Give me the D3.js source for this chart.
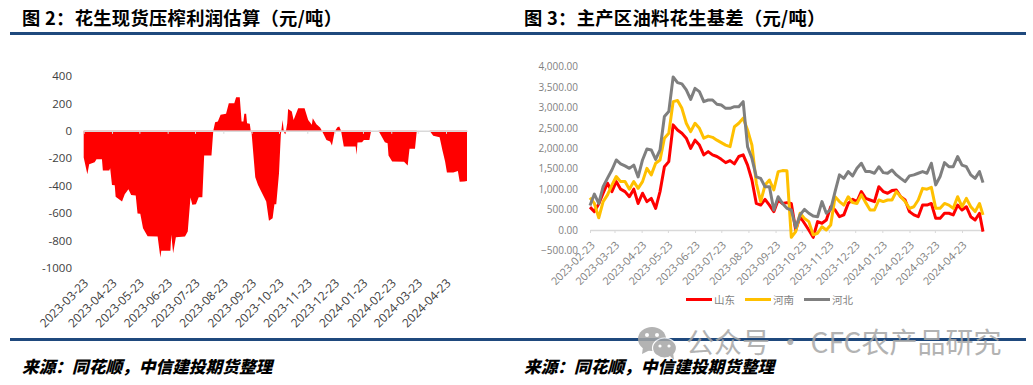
<!DOCTYPE html>
<html>
<head>
<meta charset="utf-8">
<script src="https://cdn.jsdelivr.net/npm/d3@7"></script>
<style>
	html, body { margin: 0; padding: 0; background: #fff; }
	svg { display: block; }
	text { font-family: "Open Sans", sans-serif; }
	.cjk { font-family: "Noto Sans CJK SC", sans-serif; }
</style>
</head>
<body>
<svg id="chart" width="1033" height="385"></svg>
<script>
// figure 2: crushing profit
const profitDates = [
	"2023-03-23", "2023-03-27", "2023-03-29", "2023-04-04", "2023-04-06", "2023-04-12", "2023-04-13", "2023-04-20", "2023-04-21", "2023-04-23",
	"2023-04-26", "2023-04-27", "2023-05-04", "2023-05-07", "2023-05-11", "2023-05-14", "2023-05-19", "2023-05-21", "2023-05-24", "2023-05-27",
	"2023-06-01", "2023-06-12", "2023-06-15", "2023-06-16", "2023-06-26", "2023-06-27", "2023-06-29", "2023-07-02", "2023-07-12", "2023-07-15",
	"2023-07-18", "2023-07-20", "2023-07-24", "2023-07-27", "2023-07-31", "2023-08-02", "2023-08-10", "2023-08-12", "2023-08-14", "2023-08-17",
	"2023-08-20", "2023-08-26", "2023-08-29", "2023-09-04", "2023-09-06", "2023-09-10", "2023-09-12", "2023-09-14", "2023-09-15", "2023-09-17",
	"2023-09-18", "2023-09-21", "2023-09-22", "2023-09-23", "2023-09-27", "2023-09-30", "2023-10-09", "2023-10-12", "2023-10-16", "2023-10-18",
	"2023-10-20", "2023-10-23", "2023-10-25", "2023-10-27", "2023-10-28", "2023-10-29", "2023-10-30", "2023-11-01", "2023-11-02", "2023-11-06",
	"2023-11-08", "2023-11-13", "2023-11-20", "2023-11-24", "2023-11-28", "2023-11-29", "2023-12-03", "2023-12-07", "2023-12-09", "2023-12-14",
	"2023-12-18", "2023-12-20", "2023-12-23", "2023-12-26", "2023-12-28", "2023-12-30", "2024-01-02", "2024-01-15", "2024-01-16", "2024-01-17",
	"2024-01-22", "2024-01-24", "2024-01-30", "2024-02-01", "2024-02-09", "2024-02-16", "2024-02-19", "2024-02-20", "2024-02-24", "2024-03-08",
	"2024-03-12", "2024-03-14", "2024-03-20", "2024-03-22", "2024-04-05", "2024-04-09", "2024-04-16", "2024-04-19", "2024-04-22", "2024-04-24",
	"2024-05-01", "2024-05-06", "2024-05-08", "2024-05-13", "2024-05-16"
];
const profitValues = [
	-194, -316, -243, -228, -207, -207, -289, -289, -272, -394,
	-396, -481, -515, -462, -425, -467, -471, -603, -605, -710,
	-768, -770, -923, -875, -875, -758, -892, -775, -770, -734,
	-486, -539, -535, -484, -484, -180, -180, 0, 63, 68,
	117, 124, 202, 202, 245, 245, 68, 68, 124, 124,
	56, 51, 0, -17, -338, -394, -515, -656, -637, -535,
	-535, -309, -29, 80, 12, -17, -24, 56, 160, 141,
	80, 165, 165, 80, 44, 92, 49, 24, 0, -66,
	-78, -107, -5, 27, 32, 0, -114, -114, -175, -85,
	-83, -66, -66, 0, 0, -83, -90, -180, -224, -226,
	-253, -131, -131, 0, 0, -36, -46, -139, -224, -304,
	-304, -292, -372, -370, -365
];
const profitTicks = [
	"2023-03-23", "2023-04-23", "2023-05-23", "2023-06-23", "2023-07-23", "2023-08-23", "2023-09-23",
	"2023-10-23", "2023-11-23", "2023-12-23", "2024-01-23", "2024-02-23", "2024-03-23", "2024-04-23"
];
const profitYTicks = [400, 200, 0, -200, -400, -600, -800, -1000];

// figure 3: basis by region
const basisDates = [
	"2023-02-23", "2023-02-28", "2023-03-05", "2023-03-10", "2023-03-15", "2023-03-20", "2023-03-25", "2023-03-30", "2023-04-04", "2023-04-09",
	"2023-04-14", "2023-04-19", "2023-04-24", "2023-04-29", "2023-05-04", "2023-05-09", "2023-05-14", "2023-05-19", "2023-05-24", "2023-05-29",
	"2023-06-03", "2023-06-08", "2023-06-13", "2023-06-18", "2023-06-23", "2023-06-28", "2023-07-03", "2023-07-08", "2023-07-13", "2023-07-18",
	"2023-07-23", "2023-07-28", "2023-08-02", "2023-08-07", "2023-08-12", "2023-08-17", "2023-08-22", "2023-08-27", "2023-09-01", "2023-09-06",
	"2023-09-11", "2023-09-16", "2023-09-21", "2023-09-26", "2023-10-01", "2023-10-06", "2023-10-11", "2023-10-16", "2023-10-21", "2023-10-26",
	"2023-10-31", "2023-11-05", "2023-11-10", "2023-11-15", "2023-11-20", "2023-11-25", "2023-11-30", "2023-12-05", "2023-12-10", "2023-12-15",
	"2023-12-20", "2023-12-25", "2023-12-30", "2024-01-04", "2024-01-09", "2024-01-14", "2024-01-19", "2024-01-24", "2024-01-29", "2024-02-03",
	"2024-02-08", "2024-02-13", "2024-02-18", "2024-02-23", "2024-02-28", "2024-03-04", "2024-03-09", "2024-03-14", "2024-03-19", "2024-03-24",
	"2024-03-29", "2024-04-03", "2024-04-08", "2024-04-13", "2024-04-18", "2024-04-23", "2024-04-28", "2024-05-03", "2024-05-08", "2024-05-13",
	"2024-05-17"
];
const shandong = [
	560, 450, 640, 900, 1145, 940, 1185, 1000, 940, 815,
	1000, 650, 900, 695, 775, 530, 940, 1550, 1675, 2575,
	2450, 2370, 2250, 2000, 2200, 2080, 1840, 1920, 1840, 1800,
	1730, 1650, 1700, 1620, 1800, 1840, 1590, 1225, 650, 610,
	750, 610, 450, 735, 650, 670, 650, 0, 325, 165,
	0, -180, 205, 165, 245, 570, 490, 325, 370, 650,
	750, 695, 940, 775, 735, 695, 1060, 940, 900, 965,
	980, 815, 735, 450, 370, 325, 610, 610, 650, 285,
	285, 410, 410, 370, 610, 490, 570, 325, 245, 410,
	-40
];
const henan = [
	790, 650, 300, 695, 860, 1100, 1310, 1185, 1185, 1000,
	1185, 1020, 1185, 1510, 1350, 1635, 1715, 2250, 2370, 3145,
	3170, 2980, 2615, 2410, 2615, 2490, 2250, 2300, 2270, 2200,
	2140, 2080, 2040, 2530, 2615, 2740, 2450, 2080, 1145, 695,
	1100, 1225, 980, 1430, 1455, 1450, -180, -40, 410, 285,
	205, -120, -80, 80, 0, 120, 815, 695, 610, 815,
	670, 650, 860, 670, 490, 490, 735, 695, 735, 735,
	940, 815, 695, 530, 570, 735, 1020, 1000, 1045, 530,
	530, 650, 610, 530, 815, 570, 775, 570, 450, 650,
	370
];
const hebei = [
	600, 880, 650, 1060, 1270, 1470, 1715, 1620, 1570, 1510,
	1590, 1300, 1715, 1985, 1960, 1730, 1960, 2780, 2900, 3750,
	3610, 3580, 3430, 3200, 3470, 3390, 3145, 3185, 3185, 3080,
	3060, 2980, 2980, 3020, 3020, 3145, 2040, 1755, 1300, 1265,
	1060, 1060, 490, 815, 650, 530, 490, 60, 370, 505,
	410, 340, 325, 695, 410, 505, 940, 1350, 1265, 1430,
	1325, 1510, 1635, 1430, 1430, 1390, 1550, 1405, 1390, 1470,
	1350, 1265, 1185, 1325, 1350, 1390, 1430, 1390, 1635, 1105,
	1310, 1650, 1550, 1550, 1800, 1590, 1550, 1350, 1265, 1430,
	1160
];
const basisTicks = [
	"2023-02-23", "2023-03-23", "2023-04-23", "2023-05-23", "2023-06-23", "2023-07-23", "2023-08-23", "2023-09-23",
	"2023-10-23", "2023-11-23", "2023-12-23", "2024-01-23", "2024-02-23", "2024-03-23", "2024-04-23"
];
const basisYTicks = [4000, 3500, 3000, 2500, 2000, 1500, 1000, 500, 0, -500];
const basisNames = ["山东", "河南", "河北"];
const basisColours = ["#ff0000", "#ffc000", "#7f7f7f"];

const parseDate = d3.timeParse("%Y-%m-%d");
const formatDate = d3.timeFormat("%Y-%m-%d");
const svg = d3.select("#chart");

////////////////////////////////////////////////////////////////////////////////
// PAGE FRAME //////////////////////////////////////////////////////////////////
////////////////////////////////////////////////////////////////////////////////

const navy = "#1f497d";
[33.5, 339.5].forEach(function(y) {
	svg.append("line")
		.attr("x1", 10).attr("x2", 1026)
		.attr("y1", y).attr("y2", y)
		.attr("stroke", navy)
		.attr("stroke-width", 3);
});

function heading(x, label) {
	svg.append("text")
		.attr("class", "cjk")
		.attr("x", x).attr("y", 25)
		.attr("font-size", 18.3)
		.attr("font-weight", 700)
		.attr("letter-spacing", 0.3)
		.attr("fill", "#000")
		.text(label);
}
heading(22, "图 2：花生现货压榨利润估算（元/吨）");
heading(524, "图 3：主产区油料花生基差（元/吨）");

function source(x) {
	svg.append("text")
		.attr("class", "cjk")
		.attr("x", x).attr("y", 373)
		.attr("font-size", 16.7)
		.attr("font-weight", 900)
		.attr("font-style", "italic")
		.attr("fill", "#000")
		.text("来源：同花顺，中信建投期货整理");
}
source(22);
source(524);

////////////////////////////////////////////////////////////////////////////////
// FIGURE 2 ////////////////////////////////////////////////////////////////////
////////////////////////////////////////////////////////////////////////////////

const x2 = d3.scaleTime()
	.domain([parseDate("2023-03-23"), parseDate("2024-05-16")])
	.range([83.7, 467]);
const y2 = d3.scaleLinear().domain([-1000, 400]).range([268, 76]);

const profit = profitDates.map((d, i) => ({ date: parseDate(d), value: profitValues[i] }));

svg.append("path")
	.datum(profit)
	.attr("fill", "#ff0000")
	.attr("d", d3.area()
		.x(d => x2(d.date))
		.y0(y2(0))
		.y1(d => y2(d.value)));

// date axis sits on the zero line, labels pushed down to the bottom of the plot
function dateAxis(x, y, ticks, dy, size, colour) {
	const g = svg.append("g")
		.attr("transform", "translate(0," + y + ")")
		.call(d3.axisBottom(x)
			.tickValues(ticks.map(parseDate))
			.tickSize(3)
			.tickSizeOuter(0)
			.tickFormat(formatDate));
	g.select(".domain").attr("stroke", "#d9d9d9").attr("stroke-width", 1.5);
	g.selectAll(".tick line").attr("stroke", "#d9d9d9");
	g.selectAll(".tick text")
		.attr("text-anchor", "end")
		.attr("font-size", size)
		.attr("fill", colour)
		.attr("x", 0).attr("y", 0).attr("dy", 0)
		.attr("transform", "translate(5," + dy + ") rotate(-45)");
}
dateAxis(x2, y2(0), profitTicks, 153, 12, "#404040");

function valueAxis(y, ticks, right, size, colour, format) {
	const g = svg.append("g")
		.attr("transform", "translate(" + right + ",0)")
		.call(d3.axisLeft(y).tickValues(ticks).tickSize(0).tickPadding(0).tickFormat(format));
	g.select(".domain").remove();
	g.selectAll("text").attr("font-size", size).attr("fill", colour);
}
valueAxis(y2, profitYTicks, 72, 11.5, "#404040", d => d);

////////////////////////////////////////////////////////////////////////////////
// FIGURE 3 ////////////////////////////////////////////////////////////////////
////////////////////////////////////////////////////////////////////////////////

const x3 = d3.scaleTime()
	.domain([parseDate("2023-02-23"), parseDate("2024-05-17")])
	.range([590, 983]);
const y3 = d3.scaleLinear().domain([-500, 4000]).range([250.4, 66.7]);

dateAxis(x3, y3(0), basisTicks, 16, 10.8, "#7f7f7f");
valueAxis(y3, basisYTicks, 578, 10, "#7f7f7f", d3.format(",.2f"));

const basisLine = d3.line()
	.x((d, i) => x3(parseDate(basisDates[i])))
	.y(d => y3(d));

[shandong, henan, hebei].forEach(function(series, i) {
	svg.append("path")
		.datum(series)
		.attr("fill", "none")
		.attr("stroke", basisColours[i])
		.attr("stroke-width", 3)
		.attr("stroke-linejoin", "round")
		.attr("d", basisLine);
});

// legend
const legendX = [686, 745, 804];
basisNames.forEach(function(name, i) {
	svg.append("line")
		.attr("x1", legendX[i]).attr("x2", legendX[i] + 26)
		.attr("y1", 299.5).attr("y2", 299.5)
		.attr("stroke", basisColours[i])
		.attr("stroke-width", 3);
	svg.append("text")
		.attr("class", "cjk")
		.attr("x", legendX[i] + 28).attr("y", 303.5)
		.attr("font-size", 10.5)
		.attr("fill", "#7f7f7f")
		.text(name);
});

////////////////////////////////////////////////////////////////////////////////
// WATERMARK ///////////////////////////////////////////////////////////////////
////////////////////////////////////////////////////////////////////////////////

const mark = svg.append("g").attr("opacity", 0.85);
const markGrey = "#a6a6a6";
mark.append("ellipse").attr("cx", 652).attr("cy", 339).attr("rx", 14).attr("ry", 12).attr("fill", markGrey);
mark.append("path").attr("d", "M643,347L642,354L650,350Z").attr("fill", markGrey);
mark.append("ellipse").attr("cx", 664.5).attr("cy", 348).attr("rx", 12).attr("ry", 10)
	.attr("fill", markGrey).attr("stroke", "#fff").attr("stroke-width", 1.2);
mark.append("path").attr("d", "M669,355L674,360L673,352Z").attr("fill", markGrey);
[[647, 335, 2], [657, 335, 2], [660, 346, 1.6], [669, 346, 1.6]].forEach(function(p) {
	mark.append("circle").attr("cx", p[0]).attr("cy", p[1]).attr("r", p[2]).attr("fill", "#fff");
});
mark.append("text")
	.attr("class", "cjk")
	.attr("x", 686).attr("y", 353)
	.attr("font-size", 28)
	.attr("fill", markGrey)
	.text("公众号 · CFC农产品研究");
</script>
</body>
</html>
